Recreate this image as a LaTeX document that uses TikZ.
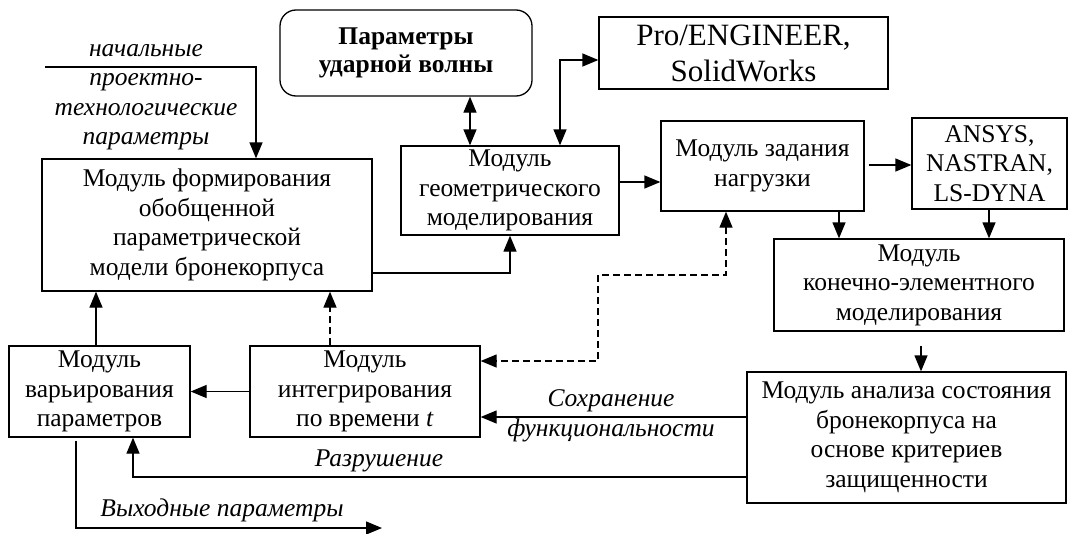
\documentclass[tikz,border=0pt]{standalone}
\usepackage{fontspec}
\setmainfont{Liberation Serif}
\usetikzlibrary{arrows.meta}

\begin{document}
\begin{tikzpicture}[
      x=1pt, y=-1pt,
      every node/.style={font=\fontsize{25.5}{29.5}\selectfont},
      box/.style={draw, line width=1.3pt, align=center, inner sep=0pt},
      bold/.style={font=\fontsize{25.5}{28}\selectfont\bfseries},
      big/.style={font=\fontsize{31}{36}\selectfont},
      lbl/.style={font=\fontsize{25.5}{29.5}\selectfont\itshape, align=center, inner sep=0pt},
      arrow/.style={-{Triangle[length=16pt,width=13pt]}, line width=1.3pt},
      darrow/.style={{Triangle[length=16pt,width=13pt]}-{Triangle[length=16pt,width=13pt]}, line width=1.3pt},
      dash line/.style={dash pattern=on 7pt off 4pt}
    ]
    \useasboundingbox (0,0) rectangle (1068,533);

    \node[box, bold, rounded corners=16pt, minimum width=252pt, minimum height=86pt] (wave) at (406,53) {Параметры\\ударной волны};
    \node[box, big, minimum width=289pt, minimum height=72pt] (cad) at (743.5,53) {Pro/ENGINEER,\\SolidWorks};
    \node[box, minimum width=330pt, minimum height=132pt] (form) at (207,225) {Модуль формирования\\обобщенной\\параметрической\\модели бронекорпуса};
    \node[box, minimum width=218pt, minimum height=89pt] (geom) at (510,190.5) {Модуль\\геометрического\\моделирования};
    \node[box, minimum width=203pt, minimum height=90pt] (load) at (762.5,166) {Модуль задания\\нагрузки};
    \node[box, minimum width=155pt, minimum height=91pt] (fea) at (989.5,163.5) {ANSYS,\\NASTRAN,\\LS-DYNA};
    \node[box, minimum width=290pt, minimum height=92pt] (fem) at (919,285) {Модуль\\конечно-элементного\\моделирования};
    \node[box, minimum width=319pt, minimum height=131pt] (check) at (906.5,437.5) {Модуль анализа состояния\\бронекорпуса на\\основе критериев\\защищенности};
    \node[box, minimum width=181pt, minimum height=91pt] (vary) at (99.5,391.5) {Модуль\\варьирования\\параметров};
    \node[box, minimum width=230pt, minimum height=91pt] (integ) at (365,391.5) {Модуль\\интегрирования\\по времени \textit{t}};

    % labels
    \node[lbl] (initlbl) at (146,97) {начальные\\проектно-\\технологические\\параметры};
    \node[lbl] (keeplbl) at (611,401) {Сохранение};
    \node[lbl] (funclbl) at (611,430) {функциональности};
    \node[lbl] (faillbl) at (379,461) {Разрушение};
    \node[lbl] (outlbl) at (222,510) {Выходные параметры};

    \coordinate (init) at (45,67);
    \coordinate (out) at (382,528);

    \draw[arrow] (init) -| (form.north -| 256,0);
    \draw[darrow] (wave.south -| 470,0) -- (geom.north -| 470,0);
    \draw[darrow] (geom.north -| 560,0) |- ([yshift=-7pt]cad.west);
    \draw[arrow] (geom.east |- 0,182) -- (load.west |- 0,182);
    \draw[arrow, shorten <=4pt] (load.east |- 0,165) -- (fea.west |- 0,165);
    \draw[arrow] (load.south -| 839,0) -- (fem.north -| 839,0);
    \draw[arrow] (fea.south -| 989,0) -- (fem.north -| 989,0);
    \draw[arrow, shorten <=14pt] (fem.south -| 921,0) -- (check.north -| 921,0);
    \draw[arrow] (check.west |- 0,417) -- (integ.east |- 0,417);
    \draw[arrow] (check.west |- 0,477) -| (vary.south -| 133,0);
    \draw[arrow, shorten <=3pt] (vary.south -| 76,0) |- (out);
    \draw[arrow] (integ.west) -- (vary.east);
    \draw[arrow] (vary.north -| 96,0) -- (form.south -| 96,0);
    \draw[arrow, dash line] (integ.north -| 330,0) -- (form.south -| 330,0);
    \draw[arrow] (form.east |- 0,273) -| (geom.south);
    \draw[darrow, dash line] (load.south -| 726,0) |- (598,275) |- (integ.east |- 0,361);
  \end{tikzpicture}
\end{document}
